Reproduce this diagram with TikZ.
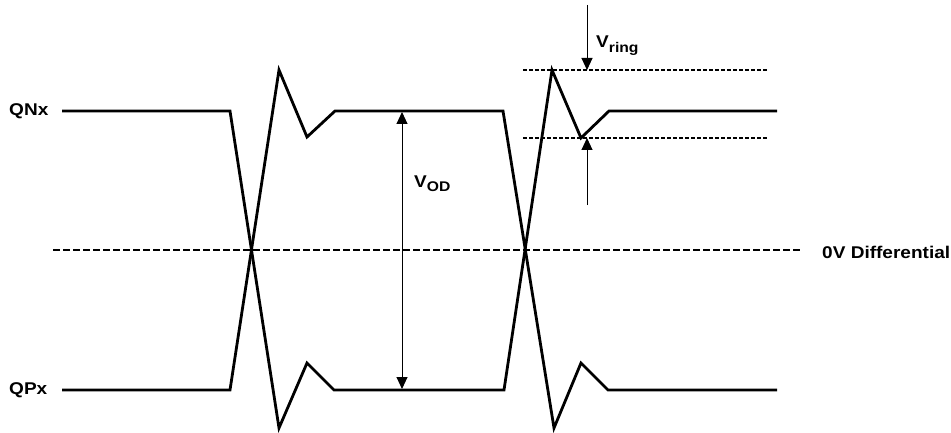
\documentclass[tikz,border=0pt]{standalone}
\usepackage{fontspec}
\setmainfont{Liberation Sans}[FakeStretch=1.12]
\usetikzlibrary{arrows.meta}
\begin{document}
\begin{tikzpicture}[x=1pt,y=-1pt,
  sig/.style={line width=2.8pt, line join=miter},
  zero/.style={line width=2.8pt, dash pattern=on 6.5pt off 3.5pt},
  ringline/.style={line width=1.2pt, dash pattern=on 4pt off 2pt},
  dim/.style={line width=1pt, -{Triangle[length=12pt,width=11pt]}},
  dimboth/.style={line width=1pt, {Triangle[length=12pt,width=11pt]}-{Triangle[length=12pt,width=11pt]}},
  lab/.style={font=\fontsize{17}{19}\selectfont\bfseries, inner sep=0pt}]
\useasboundingbox (0,0) rectangle (951,433);
% waveform points
\coordinate (n0) at (62,111);
\coordinate (n1) at (230,111);
\coordinate (n2) at (279,428);
\coordinate (n3) at (307,363);
\coordinate (n4) at (334,390);
\coordinate (n5) at (504,390);
\coordinate (n6) at (552,70);
\coordinate (n7) at (581,138);
\coordinate (n8) at (609,111);
\coordinate (n9) at (777,111);
\coordinate (p0) at (62,390);
\coordinate (p1) at (230,390);
\coordinate (p2) at (279,70);
\coordinate (p3) at (307,137);
\coordinate (p4) at (335,111);
\coordinate (p5) at (503,111);
\coordinate (p6) at (554,428);
\coordinate (p7) at (581,363);
\coordinate (p8) at (608,390);
\coordinate (p9) at (777,390);
\draw[sig] (n0) -- (n1) -- (n2) -- (n3) -- (n4) -- (n5) -- (n6) -- (n7) -- (n8) -- (n9);
\draw[sig] (p0) -- (p1) -- (p2) -- (p3) -- (p4) -- (p5) -- (p6) -- (p7) -- (p8) -- (p9);
% zero line
\coordinate (z0) at (53,250);
\coordinate (z1) at (803,250);
\draw[zero] (z0) -- (z1);
% ring lines
\coordinate (ra0) at (523,70);
\coordinate (ra1) at (768,70);
\coordinate (rb0) at (523,138);
\coordinate (rb1) at (768,138);
\draw[ringline] (ra0) -- (ra1);
\draw[ringline] (rb0) -- (rb1);
% V_ring arrows
\coordinate (vt0) at (587,5);
\coordinate (vt1) at (587,70);
\coordinate (vb0) at (587,205);
\coordinate (vb1) at (587,138);
\draw[dim] (vt0) -- (vt1);
\draw[dim] (vb0) -- (vb1);
% V_OD arrow
\coordinate (od0) at (402,112);
\coordinate (od1) at (402,389);
\draw[dimboth] (od0) -- (od1);
% labels
\node[lab, anchor=west] (qnx) at (9,111) {QNx};
\node[lab, anchor=west] (qpx) at (9,390) {QPx};
\node[lab, anchor=west] (zl) at (822,252) {0V Differential};
\node[lab, anchor=base west] (vod) at (414,187) {V\raisebox{-5pt}{\fontsize{14}{16}\selectfont OD}};
\node[lab, anchor=base west] (vring) at (596,48) {V\raisebox{-5pt}{\fontsize{14}{16}\selectfont ring}};
\end{tikzpicture}
\end{document}
